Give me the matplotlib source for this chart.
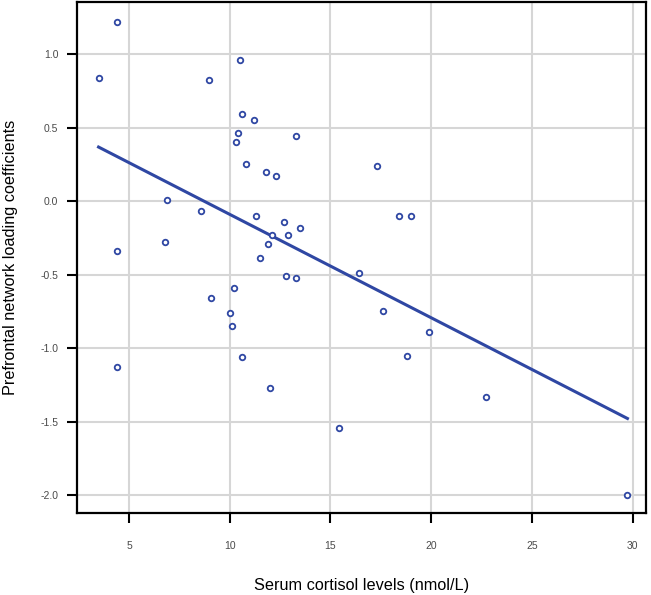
import matplotlib
matplotlib.use('Agg')
import matplotlib.pyplot as plt
import numpy as np

plt.rcParams['font.family'] = ['Liberation Sans', 'DejaVu Sans']

# serum cortisol (nmol/L) and prefrontal network loading coefficients
cortisol = [3.49, 4.39, 4.39, 4.39, 6.89, 6.77, 8.59, 8.99, 9.09, 10.00,
            10.10, 10.20, 10.30, 10.40, 10.50, 10.60, 10.60, 10.80, 11.20, 11.30,
            11.50, 11.79, 11.89, 12.01, 12.11, 12.29, 12.70, 12.80, 12.90, 13.30,
            13.30, 13.51, 15.40, 16.42, 17.31, 17.61, 18.40, 18.82, 19.00, 19.90,
            22.71, 29.74]
loading = [0.84, 1.22, -0.34, -1.13, 0.01, -0.28, -0.07, 0.82, -0.66, -0.76,
           -0.85, -0.59, 0.40, 0.46, 0.96, 0.59, -1.06, 0.25, 0.55, -0.10,
           -0.39, 0.20, -0.29, -1.27, -0.23, 0.17, -0.14, -0.51, -0.23, 0.44,
           -0.52, -0.18, -1.54, -0.49, 0.24, -0.75, -0.10, -1.05, -0.10, -0.89,
           -1.33, -2.00]

x_ticks = [5, 10, 15, 20, 25, 30]
y_ticks = [-2.0, -1.5, -1.0, -0.5, 0.0, 0.5, 1.0]

blue = '#2f47a3'

fig = plt.figure(figsize=(6.51, 5.95), dpi=100)
ax = fig.add_axes([0.1183, 0.1378, 0.874, 0.858])

x = np.array(cortisol)
y = np.array(loading)
slope, intercept = np.polyfit(x, y, 1)
xl = np.array([x.min(), x.max()])

ax.grid(True, color='#d6d6d6', linewidth=1.5, zorder=0)
ax.plot(xl, intercept + slope * xl, color=blue, linewidth=2.2, zorder=2)
ax.scatter(x, y, s=16, facecolors='white', edgecolors=blue, linewidths=1.3, zorder=3)

ax.set_xlim(2.42, 30.66)
ax.set_ylim(-2.12, 1.35)
ax.set_xticks(x_ticks)
ax.set_yticks(y_ticks)
ax.set_yticklabels(['%.1f' % v for v in y_ticks])
ax.tick_params(axis='x', direction='out', length=7.5, width=1.5, pad=13,
               labelsize=7.5, labelcolor='#4a4a4a')
ax.tick_params(axis='y', direction='out', length=7.5, width=1.5, pad=6,
               labelsize=7.5, labelcolor='#4a4a4a')
for s in ax.spines.values():
    s.set_linewidth(1.6)
    s.set_color('black')

ax.set_xlabel('Serum cortisol levels (nmol/L)', fontsize=11.7)
ax.set_ylabel('Prefrontal network loading coefficients', fontsize=11.7)
ax.xaxis.set_label_coords(0.5, -0.127)
ax.yaxis.set_label_coords(-0.104, 0.5)

fig.savefig('out.png', dpi=100)
